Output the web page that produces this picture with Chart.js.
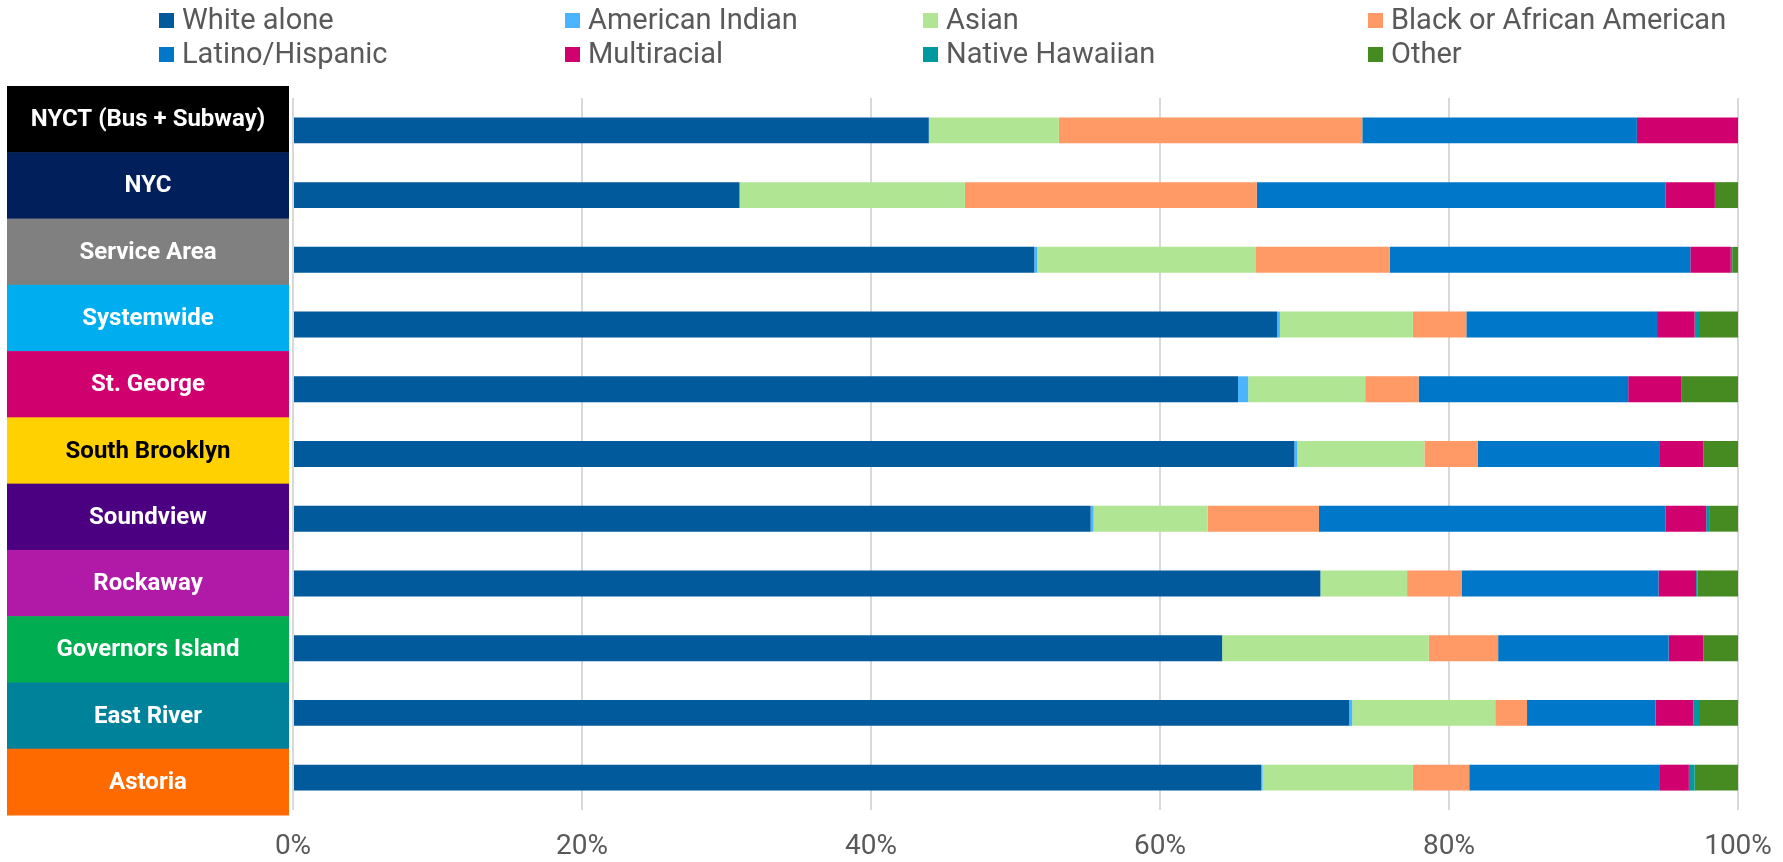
<!DOCTYPE html>
<html>
<head>
<meta charset="utf-8">
<script src="https://cdn.jsdelivr.net/npm/chart.js@4"></script>
<style>
    html, body { margin: 0; padding: 0; background: #fff; }
    #wrap { position: relative; width: 1783px; height: 862px; overflow: hidden; }
    #chart { position: absolute; left: 0; top: 0; }
    .legend-item {
        position: absolute;
        font-family: Roboto, sans-serif;
        font-size: 29px;
        color: #595959;
        line-height: 32px;
        white-space: nowrap;
    }
    .legend-item span.box {
        display: inline-block;
        width: 15px;
        height: 15px;
        margin-right: 8px;
        vertical-align: 1px;
    }
</style>
</head>
<body>
<div id="wrap">
    <canvas id="chart" width="1783" height="862"></canvas>
</div>
<script>
// Categories (top to bottom)
const categories = ['NYCT (Bus + Subway)', 'NYC', 'Service Area', 'Systemwide', 'St. George', 'South Brooklyn',
    'Soundview', 'Rockaway', 'Governors Island', 'East River', 'Astoria'];

// Share of riders by race / ethnicity, in %
const whiteAlone     = [44.0, 30.9, 51.3, 68.1, 65.4, 69.3, 55.2, 71.1, 64.3, 73.1, 67.0];
const americanIndian = [0.0, 0.0, 0.2, 0.2, 0.7, 0.2, 0.2, 0.0, 0.0, 0.2, 0.1];
const asian          = [9.0, 15.6, 15.1, 9.2, 8.1, 8.8, 7.9, 6.0, 14.3, 9.9, 10.4];
const blackAfrican   = [21.0, 20.2, 9.3, 3.7, 3.7, 3.7, 7.7, 3.8, 4.8, 2.2, 3.9];
const latino         = [19.0, 28.3, 20.8, 13.2, 14.5, 12.6, 24.0, 13.6, 11.8, 8.9, 13.2];
const multiracial    = [7.0, 3.4, 2.8, 2.6, 3.7, 3.0, 2.8, 2.6, 2.4, 2.6, 2.0];
const nativeHawaiian = [0.0, 0.0, 0.1, 0.3, 0.0, 0.0, 0.2, 0.1, 0.0, 0.4, 0.4];
const other          = [0.0, 1.6, 0.4, 2.7, 3.9, 2.4, 2.0, 2.8, 2.4, 2.7, 3.0];

// Tick labels on the x axis
const tickValues = [0, 20, 40, 60, 80, 100];

// Series names + colours
const seriesNames = ['White alone', 'American Indian', 'Asian', 'Black or African American',
    'Latino/Hispanic', 'Multiracial', 'Native Hawaiian', 'Other'];
const seriesColors = ['#005A9C', '#4AB4FF', '#B0E594', '#FF9966', '#0077C8', '#D0006F', '#00999F', '#468B21'];
const seriesData = [whiteAlone, americanIndian, asian, blackAfrican, latino, multiracial, nativeHawaiian, other];

// Row label boxes
const labelColors = ['#000000', '#001F5B', '#808080', '#00AEEF', '#D0006F', '#FFD100',
    '#4B0082', '#B01AA7', '#00AD50', '#00829B', '#FF6A00'];
const labelTextColors = ['#fff', '#fff', '#fff', '#fff', '#fff', '#000', '#fff', '#fff', '#fff', '#fff', '#fff'];

// HTML legend, laid out in 4 columns x 2 rows
const legendCols = [159, 565, 923, 1368];
const legendRows = [3, 37];
const wrap = document.getElementById('wrap');
seriesNames.forEach(function(name, i) {
    const item = document.createElement('div');
    item.className = 'legend-item';
    item.style.left = legendCols[i % 4] + 'px';
    item.style.top = legendRows[Math.floor(i / 4)] + 'px';
    item.innerHTML = '<span class="box" style="background:' + seriesColors[i] + '"></span>' + name;
    wrap.appendChild(item);
});

// Draws the coloured category boxes on the left
const labelBoxes = {
    id: 'labelBoxes',
    afterDraw(chart) {
        const ctx = chart.ctx;
        const area = chart.chartArea;
        const top = area.top - 12;
        const bottom = area.bottom + 5;
        const h = (bottom - top) / categories.length;
        const left = 7;
        const right = area.left - 4;
        ctx.save();
        categories.forEach(function(name, i) {
            const y = top + i * h;
            ctx.fillStyle = labelColors[i];
            ctx.fillRect(left, y, right - left, h + 0.5);
            ctx.fillStyle = labelTextColors[i];
            ctx.font = 'bold 24px Roboto';
            ctx.textAlign = 'center';
            ctx.textBaseline = 'middle';
            ctx.fillText(name, (left + right) / 2, y + h / 2 + 1);
        });
        ctx.restore();
    }
};

const ctx = document.getElementById('chart').getContext('2d');
new Chart(ctx, {
    type: 'bar',
    data: {
        labels: categories,
        datasets: seriesNames.map(function(name, i) {
            return {
                label: name,
                data: seriesData[i],
                backgroundColor: seriesColors[i],
                borderWidth: 0,
                barPercentage: 0.4,
                categoryPercentage: 1.0
            };
        })
    },
    options: {
        indexAxis: 'y',
        responsive: false,
        animation: false,
        layout: {
            padding: { left: 293, right: 45, top: 98, bottom: 0 }
        },
        plugins: {
            legend: { display: false },
            tooltip: { enabled: false }
        },
        scales: {
            x: {
                stacked: true,
                min: 0,
                max: 100,
                afterBuildTicks: function(axis) {
                    axis.ticks = tickValues.map(v => ({ value: v }));
                },
                afterFit: function(axis) {
                    axis.height = 52;
                    axis.paddingLeft = 0;
                    axis.paddingRight = 0;
                },
                ticks: {
                    padding: 20,
                    color: '#595959',
                    font: { family: 'Roboto', size: 28 },
                    callback: function(v) { return v + '%'; }
                },
                grid: {
                    color: '#d9d9d9',
                    lineWidth: 2,
                    drawTicks: false
                },
                border: { display: false }
            },
            y: {
                stacked: true,
                display: false
            }
        }
    },
    plugins: [labelBoxes]
});
</script>
</body>
</html>
